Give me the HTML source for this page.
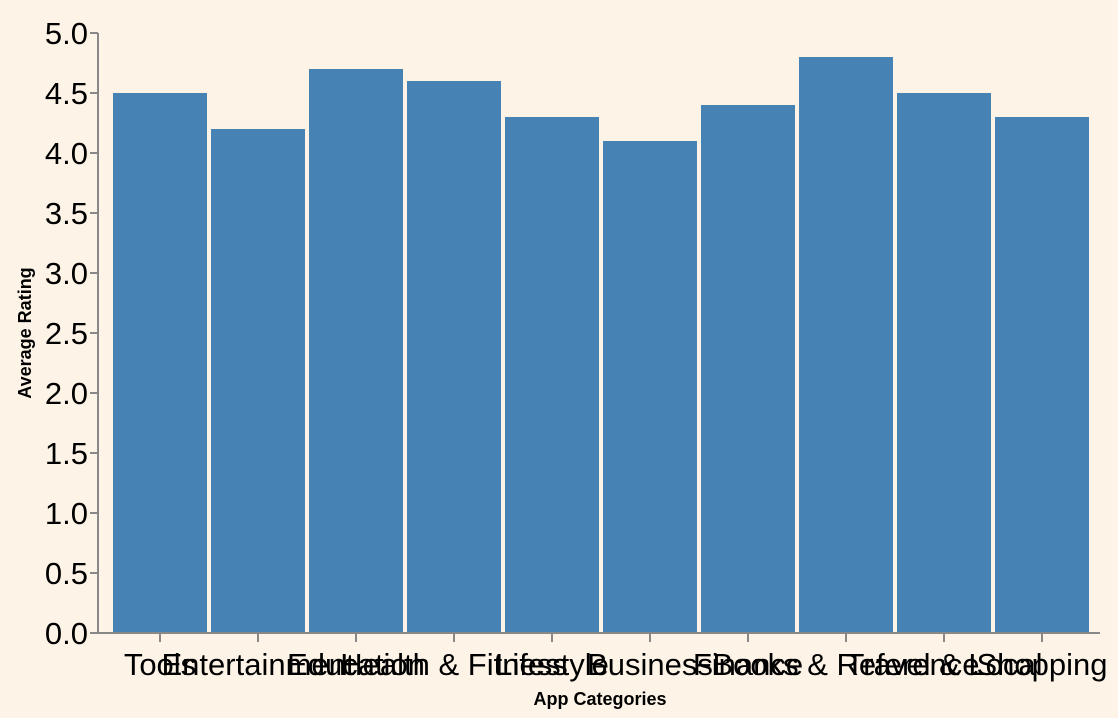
<!DOCTYPE html>
<html><head><meta charset="utf-8"><style>
body{margin:0;background:#fdf4e7;}
svg{display:block;font-family:"Liberation Sans",Arial,sans-serif;}
</style></head><body>
<svg id="c" width="1118" height="718">
<rect width="1118" height="718" fill="#fdf4e7"/>
</svg>
<script>
const categories=["Tools","Entertainment","Education","Health & Fitness","Lifestyle","Business","Finance","Books & Reference","Travel & Local","Shopping"];
const ratings=[4.5,4.2,4.7,4.6,4.3,4.1,4.4,4.8,4.5,4.3];
const yTicks=[0,0.5,1,1.5,2,2.5,3,3.5,4,4.5,5];
const svg=document.getElementById('c');const NS='http://www.w3.org/2000/svg';
const X0=111,STEP=98,BW=94,Y0=633,YMAX=5,PH=600;
const y=v=>Y0-v/YMAX*PH;
const xc=i=>X0+STEP*(i+0.5);
function mk(t,a,p){const e=document.createElementNS(NS,t);for(const k in a)e.setAttribute(k,a[k]);(p||svg).appendChild(e);return e;}
categories.forEach((c,i)=>{
 const r=mk('rect',{x:xc(i)-BW/2,y:y(ratings[i]),width:BW,height:Y0-y(ratings[i]),fill:'#4682b4'});
 
 
});
const ax=mk('g',{});


mk('line',{x1:98,y1:y(0),x2:98,y2:y(5),stroke:'#888','stroke-width':2},ax);
yTicks.forEach(t=>{
 mk('line',{x1:90,y1:y(t),x2:98,y2:y(t),stroke:'#888','stroke-width':2},ax);
 const l=mk('text',{x:88,y:y(t)+11,'text-anchor':'end','font-size':31,fill:'#000'},ax);l.textContent=t.toFixed(1);
 
 
});
const xa=mk('g',{});


mk('line',{x1:98,y1:Y0,x2:1100,y2:Y0,stroke:'#888','stroke-width':2},xa);
categories.forEach((c,i)=>{
 mk('line',{x1:xc(i),y1:Y0,x2:xc(i),y2:Y0+9,stroke:'#888','stroke-width':2},xa);
 const l=mk('text',{x:xc(i),y:675,'text-anchor':'middle','font-size':31,fill:'#000'},xa);l.textContent=c;
 
 
});
const xt=mk('text',{x:600,y:705,'text-anchor':'middle','font-size':18,'font-weight':'bold',fill:'#000'});xt.textContent='App Categories';


const yt=mk('text',{x:0,y:0,'text-anchor':'middle','font-size':18,'font-weight':'bold',fill:'#000',transform:'translate(31,333) rotate(-90)'});yt.textContent='Average Rating';


</script>
</body></html>
